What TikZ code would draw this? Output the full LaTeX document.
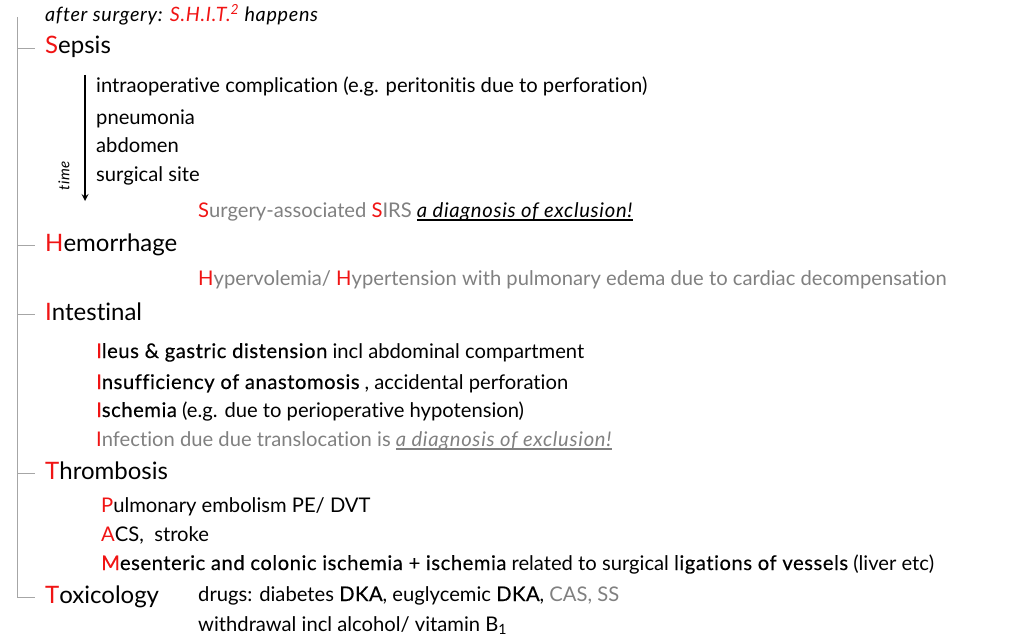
\documentclass[tikz,border=0pt]{standalone}
\usepackage{fontspec}
\setmainfont[Ligatures={NoCommon,NoRare}, ItalicFeatures={LetterSpace=3.5}]{Lato}
\newfontfamily\medfont[Ligatures={NoCommon,NoRare}, FakeBold=0.4, LetterSpace=2.7]{Lato}
\usepackage{xcolor}
\definecolor{shitred}{RGB}{240,20,20}
\definecolor{dimgray}{RGB}{128,128,128}
\newcommand{\rl}[1]{\textcolor{shitred}{#1}}
\newcommand{\md}[1]{{\medfont #1}}
\newsavebox{\exclbox}
\newcommand{\excl}[1]{\sbox{\exclbox}{\textit{#1}}\rlap{\rule[-3.5pt]{\wd\exclbox}{1.1pt}}\usebox{\exclbox}}

\begin{document}
\begin{tikzpicture}[x=1pt, y=-1pt,
    head/.style={anchor=base west, inner sep=0pt, text height=17pt, text depth=5pt, font=\fontsize{24}{28}\selectfont},
    item/.style={anchor=base west, inner sep=0pt, font=\fontsize{20.2}{24}\selectfont},
    dim/.style={item, text=dimgray},
    trunk/.style={draw=gray!70, line width=0.8pt}
  ]
  \useasboundingbox (0,0) rectangle (1024,639);

  \node[item, font=\fontsize{19.8}{24}\selectfont\itshape] (title) at (45,22) {after surgery: \textcolor{shitred}{S.H.I.T.\textsuperscript{2}} happens};

  % sepsis
  \node[head] (sepsis) at (45,54) {\rl{S}epsis};
  \node[item] (intraop) at (96,93) {intraoperative complication (e.g. peritonitis due to perforation)};
  \node[item] (pneu) at (96,125) {pneumonia};
  \node[item] (abdo) at (96,153) {abdomen};
  \node[item] (site) at (96,182) {surgical site};
  \node[dim] (sirs) at (198,217) {\rl{S}urgery-associated \rl{S}IRS \textcolor{black}{\excl{a diagnosis of exclusion!}}};

  \coordinate (tstart) at (85,75);
  \coordinate (tend) at (85,201);
  \draw[-stealth, line width=2pt] (tstart) -- (tend);
  \node[rotate=90, inner sep=0pt, font=\fontsize{15}{17}\selectfont\itshape] (time) at (64,176) {time};

  % hemorrhage
  \node[head] (hemo) at (45,251) {\rl{H}emorrhage};
  \node[dim] (hyper) at (198,285) {\rl{H}ypervolemia/ \rl{H}ypertension with pulmonary edema due to cardiac decompensation};

  % intestinal
  \node[head] (intest) at (45,320) {\rl{I}ntestinal};
  \node[item] (ileus) at (96,358) {\md{\rl{I}leus \& gastric distension} incl abdominal compartment};
  \node[item] (insuff) at (96,389) {\md{\rl{I}nsufficiency of anastomosis} , accidental perforation};
  \node[item] (isch) at (96,417) {\md{\rl{I}schemia} (e.g. due to perioperative hypotension)};
  \node[dim] (infect) at (96,446) {\rl{I}nfection due due translocation is \excl{a diagnosis of exclusion!}};

  % thrombosis
  \node[head] (thromb) at (45,479) {\rl{T}hrombosis};
  \node[item] (pe) at (101,512) {\rl{P}ulmonary embolism PE/ DVT};
  \node[item] (acs) at (101,541) {\rl{A}CS,\ \ stroke};
  \node[item] (mesent) at (101,570) {\md{\rl{M}esenteric and colonic ischemia + ischemia} related to surgical \md{ligations of vessels} (liver etc)};

  % toxicology
  \node[head] (toxic) at (45,603) {\rl{T}oxicology};
  \node[item] (drugs) at (198,601) {drugs: diabetes \md{DKA}, euglycemic \md{DKA}, \textcolor{dimgray}{CAS, SS}};
  \node[item] (withdr) at (198,631) {withdrawal incl alcohol/ vitamin B\textsubscript{1}};

  % bracket
  \coordinate (top) at (17,17);
  \draw[trunk] (top) |- ([xshift=-10pt]toxic.west);
  \foreach \n in {sepsis, hemo, intest, thromb}
    \draw[trunk] (top |- \n.west) -- ([xshift=-10pt]\n.west);
\end{tikzpicture}
\end{document}
